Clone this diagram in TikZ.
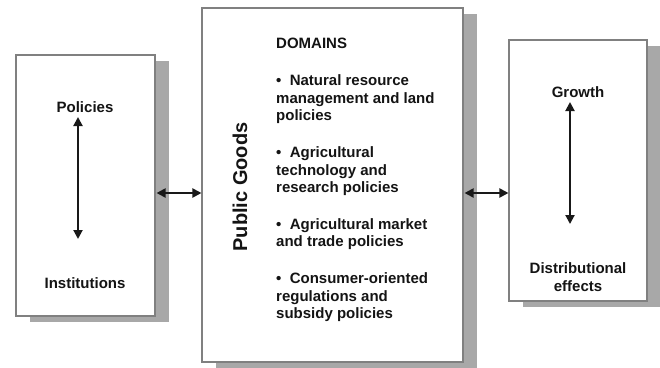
\documentclass[tikz,border=0pt]{standalone}
\usepackage{fontspec}
\setmainfont{Liberation Sans}
\usetikzlibrary{calc, positioning, arrows.meta, shadows}

\begin{document}
\begin{tikzpicture}[x=1pt, y=-1pt,
    panel/.style={draw=black!50, line width=1.1pt, fill=white,
      drop shadow={shadow xshift=14pt, shadow yshift=-6pt, fill=black!34, opacity=1}},
    label/.style={font=\fontsize{15}{17.5}\selectfont\bfseries, text=black!92, inner sep=0pt},
    twoway/.style={{Triangle[length=9pt,width=9pt]}-{Triangle[length=9pt,width=9pt]},
      line width=2pt, black!90}]
  \useasboundingbox (0,0) rectangle (660,367);
  % the three panels
  \node[panel, minimum width=139pt, minimum height=261pt] (policybox) at (85.5,185.5) {};
  \node[panel, minimum width=261pt, minimum height=354pt] (goodsbox) at (332.5,185) {};
  \node[panel, minimum width=138pt, minimum height=261pt] (outcomebox) at (578,170.5) {};

  % left panel
  \node[label] (policies) at (85,107) {Policies};
  \node[label] (institutions) at (85,283) {Institutions};
  \coordinate (pol top) at (78,117);
  \coordinate (pol bot) at (78,239);
  \draw[twoway] (pol top) -- (pol bot);

  % middle panel
  \node[label, font=\fontsize{20}{24}\selectfont\bfseries, rotate=90] (goods) at (240,187) {Public Goods};
  \node[label, anchor=north west, align=left] (domains) at (276,38) {DOMAINS\\[19.5pt]
    \textbullet~ Natural resource\\
    management and land\\
    policies\\[19.5pt]
    \textbullet~ Agricultural\\
    technology and\\
    research policies\\[19pt]
    \textbullet~ Agricultural market\\
    and trade policies\\[19.5pt]
    \textbullet~ Consumer-oriented\\
    regulations and\\
    subsidy policies};

  % right panel
  \node[label] (growth) at (578,92) {Growth};
  \node[label, align=center] (distrib) at (578,277) {Distributional\\effects};
  \coordinate (gro top) at (570,102);
  \coordinate (gro bot) at (570,224);
  \draw[twoway] (gro top) -- (gro bot);

  % links between panels
  \draw[twoway] ([xshift=1pt, yshift=-7.5pt]policybox.east) -- ([yshift=-8pt]goodsbox.west);
  \draw[twoway] ([xshift=1pt, yshift=-8pt]goodsbox.east) -- ([yshift=-22.5pt]outcomebox.west);
\end{tikzpicture}
\end{document}
